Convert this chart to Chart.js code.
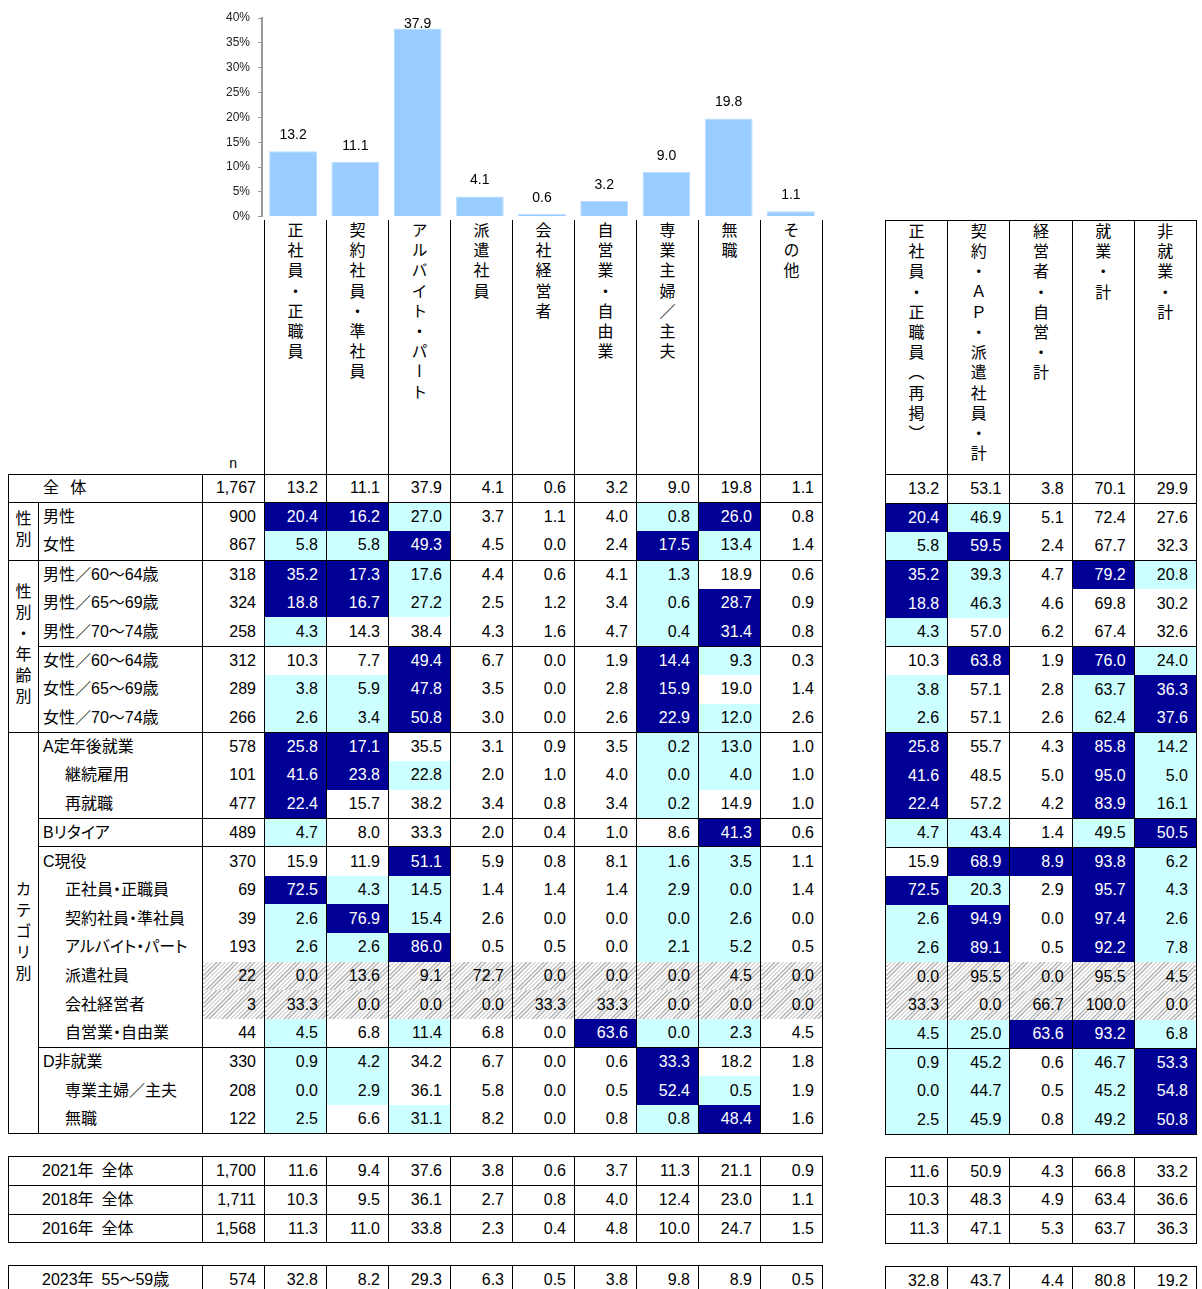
<!DOCTYPE html>
<html lang="ja">
<head>
<meta charset="utf-8">
<script src="https://cdn.jsdelivr.net/npm/chart.js"></script>
<style>
  body { margin: 0; background: #fff; color: #000; font-family: "Liberation Sans", "Noto Sans CJK JP", sans-serif; }
  #wrap { position: relative; width: 1202px; height: 1289px; overflow: hidden; }
  #chartBox { position: absolute; left: 200px; top: 0; width: 624px; height: 232px; z-index: 2; }
  table { position: absolute; top: 220px; border-collapse: collapse; table-layout: fixed; font-size: 16px; }
  #left { left: 8px; width: 814px; }
  #right { left: 885px; width: 311px; }
  tr { height: 28.7px; }
  tr.hdr { height: 254px; }
  tr.gap { height: 23px; }
  td { padding: 0; border-left: 1px solid #000; border-right: 1px solid #000; white-space: nowrap; overflow: hidden; line-height: 20px; }
  tr.top td { border-top: 1px solid #000; }
  tr.bot td { border-bottom: 1px solid #000; }
  td.nb, tr.gap td { border: none; }
  .vh { vertical-align: top; text-align: center; padding-top: 2px; }
  .vh span, .cat span { display: inline-block; writing-mode: vertical-rl; text-orientation: upright; font-family: "Noto Sans CJK JP"; font-size: 16px; line-height: 1; }
  .vh span { letter-spacing: 4.2px; }
  .nlab { vertical-align: bottom; text-align: center; font-size: 14px; padding-bottom: 1px; }
  .v { text-align: right; padding-right: 8px; }
  .lab { text-align: left; padding-left: 4px; font-feature-settings: "palt"; }
  .lab.ind { padding-left: 26px; }
  .lab.tot { padding-left: 34px; }
  .lab.trd { padding-left: 33px; }
  .cat { border: 1px solid #000; text-align: center; vertical-align: middle; }
  .cat span { letter-spacing: 5px; padding-top: 5px; }
  .hi { background: #000096; color: #fff; }
  .lo { background: #ccffff; }
  .hatch { background: repeating-linear-gradient(135deg, #b0b0b0 0 1px, #fff 1px 3px); }
</style>
</head>
<body>
<div id="wrap">
  <div id="chartBox"><canvas id="bar"></canvas></div>
  <table id="left"></table>
  <table id="right"></table>
</div>
<script>
// == Bar chart (全体) ==
const barCategories = ['正社員・正職員', '契約社員・準社員', 'アルバイト・パート', '派遣社員', '会社経営者', '自営業・自由業', '専業主婦／主夫', '無職', 'その他'];
const barValues = [13.2, 11.1, 37.9, 4.1, 0.6, 3.2, 9.0, 19.8, 1.1];
const yMax = 40;
const yStep = 5;

// == Summary columns ==
const sumCategories = ['正社員・正職員（再掲）', '契約・ＡＰ・派遣社員・計', '経営者・自営・計', '就業・計', '非就業・計'];
const totalLabel = '全\u2002\u2009体';
const totalN = 1767;
const totalSums = [13.2, 53.1, 3.8, 70.1, 29.9];

// == Breakdown rows ==
const groupLabels = ['性別', '性別・年齢別', 'カテゴリ別'];
const groupSizes = [2, 6, 14];
const blockSizes = [2, 3, 3, 3, 1, 7, 3];
const rowLabels = [
  '男性', '女性',
  '男性／60〜64歳', '男性／65〜69歳', '男性／70〜74歳',
  '女性／60〜64歳', '女性／65〜69歳', '女性／70〜74歳',
  'A定年後就業', '継続雇用', '再就職',
  'Bリタイア',
  'C現役', '正社員・正職員', '契約社員・準社員', 'アルバイト・パート', '派遣社員', '会社経営者', '自営業・自由業',
  'D非就業', '専業主婦／主夫', '無職'
];
const indentRows = [9, 10, 13, 14, 15, 16, 17, 18, 20, 21];
const rowN = [900, 867, 318, 324, 258, 312, 289, 266, 578, 101, 477, 489, 370, 69, 39, 193, 22, 3, 44, 330, 208, 122];
const rowValues = [
  [20.4, 16.2, 27.0, 3.7, 1.1, 4.0, 0.8, 26.0, 0.8],
  [5.8, 5.8, 49.3, 4.5, 0.0, 2.4, 17.5, 13.4, 1.4],
  [35.2, 17.3, 17.6, 4.4, 0.6, 4.1, 1.3, 18.9, 0.6],
  [18.8, 16.7, 27.2, 2.5, 1.2, 3.4, 0.6, 28.7, 0.9],
  [4.3, 14.3, 38.4, 4.3, 1.6, 4.7, 0.4, 31.4, 0.8],
  [10.3, 7.7, 49.4, 6.7, 0.0, 1.9, 14.4, 9.3, 0.3],
  [3.8, 5.9, 47.8, 3.5, 0.0, 2.8, 15.9, 19.0, 1.4],
  [2.6, 3.4, 50.8, 3.0, 0.0, 2.6, 22.9, 12.0, 2.6],
  [25.8, 17.1, 35.5, 3.1, 0.9, 3.5, 0.2, 13.0, 1.0],
  [41.6, 23.8, 22.8, 2.0, 1.0, 4.0, 0.0, 4.0, 1.0],
  [22.4, 15.7, 38.2, 3.4, 0.8, 3.4, 0.2, 14.9, 1.0],
  [4.7, 8.0, 33.3, 2.0, 0.4, 1.0, 8.6, 41.3, 0.6],
  [15.9, 11.9, 51.1, 5.9, 0.8, 8.1, 1.6, 3.5, 1.1],
  [72.5, 4.3, 14.5, 1.4, 1.4, 1.4, 2.9, 0.0, 1.4],
  [2.6, 76.9, 15.4, 2.6, 0.0, 0.0, 0.0, 2.6, 0.0],
  [2.6, 2.6, 86.0, 0.5, 0.5, 0.0, 2.1, 5.2, 0.5],
  [0.0, 13.6, 9.1, 72.7, 0.0, 0.0, 0.0, 4.5, 0.0],
  [33.3, 0.0, 0.0, 0.0, 33.3, 33.3, 0.0, 0.0, 0.0],
  [4.5, 6.8, 11.4, 6.8, 0.0, 63.6, 0.0, 2.3, 4.5],
  [0.9, 4.2, 34.2, 6.7, 0.0, 0.6, 33.3, 18.2, 1.8],
  [0.0, 2.9, 36.1, 5.8, 0.0, 0.5, 52.4, 0.5, 1.9],
  [2.5, 6.6, 31.1, 8.2, 0.0, 0.8, 0.8, 48.4, 1.6]
];
const rowSums = [
  [20.4, 46.9, 5.1, 72.4, 27.6],
  [5.8, 59.5, 2.4, 67.7, 32.3],
  [35.2, 39.3, 4.7, 79.2, 20.8],
  [18.8, 46.3, 4.6, 69.8, 30.2],
  [4.3, 57.0, 6.2, 67.4, 32.6],
  [10.3, 63.8, 1.9, 76.0, 24.0],
  [3.8, 57.1, 2.8, 63.7, 36.3],
  [2.6, 57.1, 2.6, 62.4, 37.6],
  [25.8, 55.7, 4.3, 85.8, 14.2],
  [41.6, 48.5, 5.0, 95.0, 5.0],
  [22.4, 57.2, 4.2, 83.9, 16.1],
  [4.7, 43.4, 1.4, 49.5, 50.5],
  [15.9, 68.9, 8.9, 93.8, 6.2],
  [72.5, 20.3, 2.9, 95.7, 4.3],
  [2.6, 94.9, 0.0, 97.4, 2.6],
  [2.6, 89.1, 0.5, 92.2, 7.8],
  [0.0, 95.5, 0.0, 95.5, 4.5],
  [33.3, 0.0, 66.7, 100.0, 0.0],
  [4.5, 25.0, 63.6, 93.2, 6.8],
  [0.9, 45.2, 0.6, 46.7, 53.3],
  [0.0, 44.7, 0.5, 45.2, 54.8],
  [2.5, 45.9, 0.8, 49.2, 50.8]
];

// == Past surveys / comparison ==
const trendBlocks = [3, 1];
const trendLabels = ['2021年\u2002全体', '2018年\u2002全体', '2016年\u2002全体', '2023年\u200255〜59歳'];
const trendN = [1700, 1711, 1568, 574];
const trendValues = [
  [11.6, 9.4, 37.6, 3.8, 0.6, 3.7, 11.3, 21.1, 0.9],
  [10.3, 9.5, 36.1, 2.7, 0.8, 4.0, 12.4, 23.0, 1.1],
  [11.3, 11.0, 33.8, 2.3, 0.4, 4.8, 10.0, 24.7, 1.5],
  [32.8, 8.2, 29.3, 6.3, 0.5, 3.8, 9.8, 8.9, 0.5]
];
const trendSums = [
  [11.6, 50.9, 4.3, 66.8, 33.2],
  [10.3, 48.3, 4.9, 63.4, 36.6],
  [11.3, 47.1, 5.3, 63.7, 36.3],
  [32.8, 43.7, 4.4, 80.8, 19.2]
];

const smallN = 30;     // n below this is hatched
const diffMark = 4.95; // +-5pt vs 全体

// == Helpers ==
function numCell(v, base, hatch) {
  let c = 'v';
  if (hatch) c += ' hatch';
  else if (base !== undefined) {
    const d = v - base;
    if (d >= diffMark) c += ' hi';
    else if (d <= -diffMark) c += ' lo';
  }
  return `<td class="${c}">${v.toFixed(1)}</td>`;
}
const vHead = s => `<td class="vh"><span>${s}</span></td>`;
const fmtN = n => n.toLocaleString('en-US');

function buildTables() {
  const blockStarts = new Set();
  let acc = 0;
  blockSizes.forEach(s => { blockStarts.add(acc); acc += s; });
  const groupStarts = {};
  acc = 0;
  groupSizes.forEach((s, g) => { groupStarts[acc] = g; acc += s; });

  let L = '<colgroup><col style="width:30px"><col style="width:164px"><col style="width:62px">' +
    barCategories.map(() => '<col style="width:62px">').join('') + '</colgroup>';
  let R = '<colgroup>' + sumCategories.map(() => '<col style="width:62.2px">').join('') + '</colgroup>';

  L += `<tr class="hdr"><td class="nb" colspan="2"></td><td class="nb nlab">n</td>${barCategories.map(vHead).join('')}</tr>`;
  R += `<tr class="hdr top">${sumCategories.map(vHead).join('')}</tr>`;

  L += `<tr class="top"><td colspan="2" class="lab tot">${totalLabel}</td><td class="v">${fmtN(totalN)}</td>${barValues.map(v => numCell(v)).join('')}</tr>`;
  R += `<tr class="top">${totalSums.map(v => numCell(v)).join('')}</tr>`;

  rowLabels.forEach((lab, i) => {
    const cls = (blockStarts.has(i) ? 'top' : '') + (i === rowLabels.length - 1 ? ' bot' : '');
    const hatch = rowN[i] < smallN;
    let l = `<tr class="${cls}">`;
    if (i in groupStarts) {
      const g = groupStarts[i];
      l += `<td class="cat" rowspan="${groupSizes[g]}"><span>${groupLabels[g]}</span></td>`;
    }
    l += `<td class="lab${indentRows.includes(i) ? ' ind' : ''}">${lab}</td>`;
    l += `<td class="v${hatch ? ' hatch' : ''}">${fmtN(rowN[i])}</td>`;
    l += rowValues[i].map((v, j) => numCell(v, barValues[j], hatch)).join('') + '</tr>';
    L += l;
    R += `<tr class="${cls}">${rowSums[i].map((v, j) => numCell(v, totalSums[j], hatch)).join('')}</tr>`;
  });

  let t = 0;
  trendBlocks.forEach(size => {
    L += '<tr class="gap"><td colspan="12"></td></tr>';
    R += '<tr class="gap"><td colspan="5"></td></tr>';
    for (let k = 0; k < size; k++, t++) {
      L += `<tr class="top bot"><td colspan="2" class="lab trd">${trendLabels[t]}</td><td class="v">${fmtN(trendN[t])}</td>${trendValues[t].map(v => numCell(v)).join('')}</tr>`;
      R += `<tr class="top bot">${trendSums[t].map(v => numCell(v)).join('')}</tr>`;
    }
  });

  document.getElementById('left').innerHTML = L;
  document.getElementById('right').innerHTML = R;
}

// == Bar value labels ==
const valueLabels = {
  id: 'valueLabels',
  afterDatasetsDraw(chart) {
    const { ctx, chartArea } = chart;
    const meta = chart.getDatasetMeta(0);
    ctx.save();
    ctx.font = '14px "Liberation Sans"';
    ctx.fillStyle = '#000';
    ctx.textAlign = 'center';
    ctx.textBaseline = 'alphabetic';
    meta.data.forEach((bar, i) => {
      const y = Math.max(bar.y - 12, chartArea.top + 10);
      ctx.fillText(barValues[i].toFixed(1), bar.x, y);
    });
    ctx.restore();
  }
};

buildTables();

new Chart(document.getElementById('bar'), {
  type: 'bar',
  data: {
    labels: barCategories,
    datasets: [{
      data: barValues,
      backgroundColor: '#99ccff',
      borderColor: '#bcdcff',
      borderWidth: 1,
      barPercentage: 0.77,
      categoryPercentage: 1
    }]
  },
  options: {
    responsive: true,
    maintainAspectRatio: false,
    animation: false,
    layout: { padding: { top: 18, bottom: 7, left: 0, right: 2 } },
    plugins: { legend: { display: false }, tooltip: { enabled: false } },
    scales: {
      x: { display: false },
      y: {
        min: 0,
        max: yMax,
        ticks: {
          stepSize: yStep,
          callback: v => v + '%',
          font: { size: 12, family: 'Liberation Sans' },
          color: '#222',
          padding: 8
        },
        grid: { drawOnChartArea: false, tickLength: 4, color: '#999' },
        border: { color: '#999', width: 2 },
        afterFit: s => { s.width = 62; }
      }
    }
  },
  plugins: [valueLabels]
});
</script>
</body>
</html>
